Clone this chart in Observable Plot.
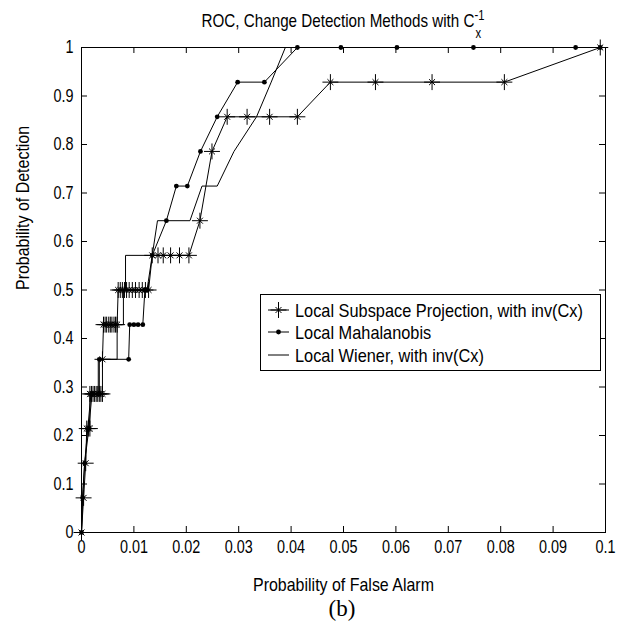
<!DOCTYPE html>
<html>
<head>
<meta charset="utf-8">
<script src="https://cdn.jsdelivr.net/npm/d3@7"></script>
<script src="https://cdn.jsdelivr.net/npm/@observablehq/plot@0.6"></script>
<style>
  body { margin: 0; background: #fff; }
  #chart { width: 624px; height: 626px; }
</style>
</head>
<body>
<div id="chart"></div>
<script>
// ---- data ----
const seriesNames = ["Local Subspace Projection, with inv(Cx)", "Local Mahalanobis", "Local Wiener, with inv(Cx)"];
const xTicks = [0, 0.01, 0.02, 0.03, 0.04, 0.05, 0.06, 0.07, 0.08, 0.09, 0.1];
const yTicks = [0, 0.1, 0.2, 0.3, 0.4, 0.5, 0.6, 0.7, 0.8, 0.9, 1];

// [Pfa, Pd] pairs
const subspacePoints = [
  [0, 0], [0.0004, 0.0714], [0.0008, 0.1429],
  [0.0010, 0.2143], [0.0013, 0.2143], [0.0016, 0.2143],
  [0.0016, 0.2857], [0.0019, 0.2857], [0.0022, 0.2857], [0.0025, 0.2857], [0.0028, 0.2857],
  [0.0031, 0.2857], [0.0034, 0.2857], [0.0037, 0.2857], [0.0040, 0.2857],
  [0.0040, 0.3571],
  [0.0042, 0.4286], [0.0045, 0.4286], [0.0048, 0.4286], [0.0052, 0.4286], [0.0055, 0.4286],
  [0.0058, 0.4286], [0.0062, 0.4286], [0.0065, 0.4286], [0.0068, 0.4286],
  [0.0070, 0.5], [0.0074, 0.5], [0.0078, 0.5], [0.0082, 0.5], [0.0086, 0.5], [0.0091, 0.5],
  [0.0097, 0.5], [0.0103, 0.5], [0.0110, 0.5], [0.0116, 0.5], [0.0122, 0.5], [0.0128, 0.5],
  [0.0135, 0.5714], [0.0146, 0.5714], [0.0156, 0.5714], [0.0170, 0.5714], [0.0187, 0.5714], [0.0205, 0.5714],
  [0.0226, 0.6429], [0.0249, 0.7857],
  [0.0278, 0.8571], [0.0316, 0.8571], [0.0359, 0.8571], [0.0412, 0.8571],
  [0.0475, 0.9286], [0.0561, 0.9286], [0.0669, 0.9286], [0.0807, 0.9286],
  [0.0990, 1]
];
const mahalanobisPoints = [
  [0, 0], [0.0002, 0.0714], [0.0006, 0.1429], [0.0014, 0.2143], [0.0020, 0.2857],
  [0.0034, 0.2857], [0.0034, 0.3571], [0.0090, 0.3571],
  [0.0092, 0.4286], [0.0100, 0.4286], [0.0108, 0.4286], [0.0117, 0.4286],
  [0.0121, 0.5], [0.0125, 0.5],
  [0.0135, 0.5714], [0.0162, 0.6429],
  [0.0181, 0.7143], [0.0202, 0.7143], [0.0227, 0.7857], [0.0259, 0.8571],
  [0.0298, 0.9286], [0.0349, 0.9286],
  [0.0412, 1], [0.0495, 1], [0.0602, 1], [0.0748, 1], [0.0943, 1], [0.0990, 1]
];
const wienerPoints = [
  [0, 0], [0.0002, 0.0714], [0.0006, 0.1429], [0.0012, 0.2143], [0.0018, 0.2857],
  [0.0032, 0.2857], [0.0032, 0.3571], [0.0068, 0.3571],
  [0.0068, 0.4286], [0.0080, 0.4286], [0.0080, 0.5], [0.0084, 0.5],
  [0.0084, 0.5714], [0.0135, 0.5714], [0.0145, 0.6429], [0.0207, 0.6429],
  [0.0230, 0.7143], [0.0259, 0.7143], [0.0291, 0.7857], [0.0334, 0.8571],
  [0.0362, 0.9286], [0.0389, 1], [0.1, 1]
];

const toObj = (pts) => pts.map(([x, y]) => ({x, y}));
const subspace = toObj(subspacePoints);
const mahalanobis = toObj(mahalanobisPoints);
const wiener = toObj(wienerPoints);

// ---- layout ----
const W = 624, H = 626;
const mL = 81, mR = 19, mT = 47, mB = 94;
const iw = W - mL - mR, ih = H - mT - mB;
const tickLen = 6;
const ff = "'Liberation Sans', Arial, Helvetica, sans-serif";
const fmt = (d) => String(+d.toFixed(2));

const plot = Plot.plot({
  width: W, height: H,
  marginLeft: mL, marginRight: mR, marginTop: mT, marginBottom: mB,
  style: {background: "white", color: "black", fontSize: "18px", fontFamily: ff},
  x: {domain: [0, 0.1]},
  y: {domain: [0, 1]},
  marks: [
    Plot.axisX(xTicks, {tickSize: 0, tickPadding: 8, tickFormat: fmt, label: null, fontSize: 18}),
    Plot.axisY(yTicks, {tickSize: 0, tickPadding: 8, tickFormat: fmt, label: null, fontSize: 18}),
    Plot.tickX(xTicks, {x: (d) => d, insetTop: ih - tickLen, stroke: "black"}),
    Plot.tickX(xTicks, {x: (d) => d, insetBottom: ih - tickLen, stroke: "black"}),
    Plot.tickY(yTicks, {y: (d) => d, insetRight: iw - tickLen, stroke: "black"}),
    Plot.tickY(yTicks, {y: (d) => d, insetLeft: iw - tickLen, stroke: "black"}),
    Plot.frame({stroke: "black"}),
    Plot.line(wiener, {x: "x", y: "y", stroke: "black", strokeWidth: 1}),
    Plot.line(mahalanobis, {x: "x", y: "y", stroke: "black", strokeWidth: 1}),
    Plot.line(subspace, {x: "x", y: "y", stroke: "black", strokeWidth: 1}),
    Plot.dot(mahalanobis, {x: "x", y: "y", r: 2.4, fill: "black"}),
    Plot.dot(subspace, {x: "x", y: "y", symbol: "plus", r: 5.2, stroke: "black", strokeWidth: 1}),
    Plot.dot(subspace, {x: "x", y: "y", symbol: "times", r: 2.8, stroke: "black", strokeWidth: 1}),
    Plot.text(["Probability of False Alarm"], {text: (d) => d, frameAnchor: "bottom", dy: 52, fontSize: 19, lineAnchor: "middle", className: "axlabel"}),
    Plot.text(["Probability of Detection"], {text: (d) => d, frameAnchor: "left", dx: -59, rotate: -90, fontSize: 19, lineAnchor: "middle", className: "axlabel"})
  ]
});
document.getElementById("chart").appendChild(plot);

// condense text horizontally along its writing direction
function squeeze(el, s) {
  const w = el.getComputedTextLength();
  if (w > 0) {
    el.setAttribute("textLength", (w * s).toFixed(2));
    el.setAttribute("lengthAdjust", "spacingAndGlyphs");
  }
}
const svg = d3.select(plot);
svg.selectAll("text").each(function () {
  const isLabel = this.closest(".axlabel") !== null;
  squeeze(this, isLabel ? 0.84 : 0.8);
});

// title with C_x^{-1}
const cx = mL + iw / 2;
const title = svg.append("text")
  .attr("x", cx).attr("y", 27).attr("text-anchor", "middle")
  .attr("font-family", ff).attr("font-size", 19).attr("fill", "black");
title.append("tspan").text("ROC, Change Detection Methods with C");
const sup = title.append("tspan").attr("dy", -7).attr("font-size", 14).text("-1");
squeeze(title.node(), 0.8);
const supBox = sup.node().getBBox();
const sub = svg.append("text").attr("x", supBox.x + 1).attr("y", 38).attr("text-anchor", "start")
  .attr("font-family", ff).attr("font-size", 14).attr("fill", "black").text("x");
squeeze(sub.node(), 0.8);

// legend
const lg = svg.append("g");
const lx = 260.5, ly = 294.5, lw = 340, lh = 76;
lg.append("rect").attr("x", lx).attr("y", ly).attr("width", lw).attr("height", lh)
  .attr("fill", "white").attr("stroke", "black");
const rowY = [310, 332, 355];
seriesNames.forEach((name, i) => {
  const y = rowY[i];
  lg.append("line").attr("x1", 268).attr("x2", 289).attr("y1", y).attr("y2", y).attr("stroke", "black");
  if (i === 0) {
    lg.append("path").attr("d", d3.symbol(d3.symbolPlus, Math.PI * 5.2 * 5.2)()).attr("transform", `translate(278.5,${y})`).attr("fill", "none").attr("stroke", "black");
    lg.append("path").attr("d", d3.symbol(d3.symbolTimes, Math.PI * 2.8 * 2.8)()).attr("transform", `translate(278.5,${y})`).attr("fill", "none").attr("stroke", "black");
  } else if (i === 1) {
    lg.append("circle").attr("cx", 278.5).attr("cy", y).attr("r", 2.4).attr("fill", "black");
  }
  const t = lg.append("text").attr("x", 295).attr("y", y).attr("dy", "0.36em")
    .attr("text-anchor", "start")
    .attr("font-family", ff).attr("font-size", 19).attr("fill", "black").text(name);
  squeeze(t.node(), 0.86);
});

// caption
svg.append("text").attr("x", 342).attr("y", 608).attr("dy", "0.35em").attr("text-anchor", "middle")
  .attr("font-family", "'Liberation Serif', 'Times New Roman', serif").attr("font-size", 23).attr("fill", "black").text("(b)");
</script>
</body>
</html>
